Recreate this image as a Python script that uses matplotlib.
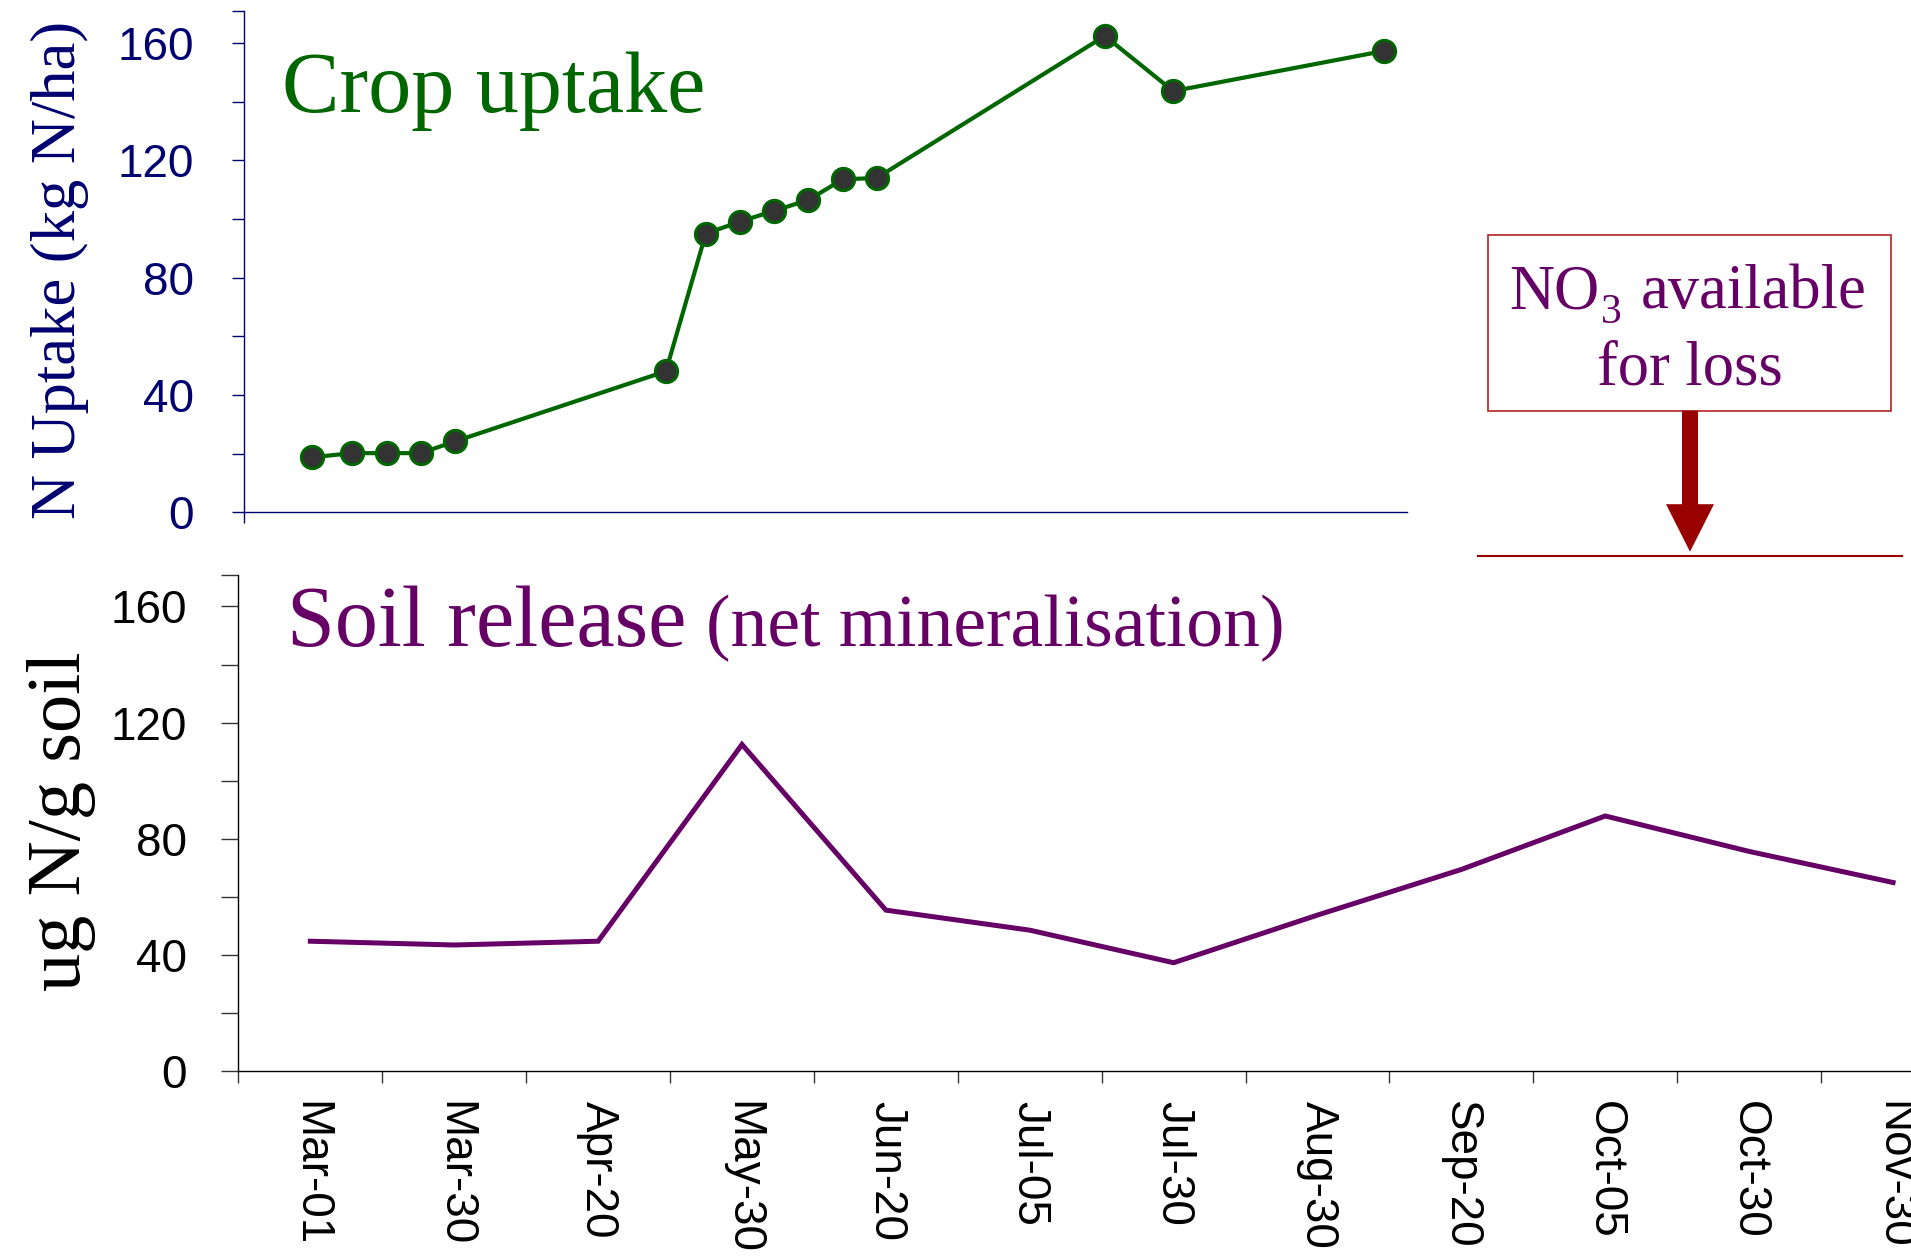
import numpy as np
import matplotlib
matplotlib.use("Agg")
import matplotlib.pyplot as plt
from matplotlib.patches import Rectangle, FancyArrow
from matplotlib.ticker import FixedLocator

# ---------------- data ----------------
uptake_day = [12, 19, 25, 31, 37, 74, 81, 87, 93, 99, 105, 111, 151, 163, 200]
uptake_kgN = [18.8, 20.2, 20.2, 20.2, 24.2, 48.1, 95.0, 99.1, 102.8, 106.5,
              113.5, 114.0, 162.4, 143.6, 157.3]

sample_dates = ["Mar-01", "Mar-30", "Apr-20", "May-30", "Jun-20", "Jul-05",
                "Jul-30", "Aug-30", "Sep-20", "Oct-05", "Oct-30", "Nov-30"]
soil_release = [44.8, 43.5, 44.8, 112.5, 55.5, 48.6, 37.4, 53.8, 69.5, 87.9,
                75.7, 65.0]

y_ticks = [0, 40, 80, 120, 160]
y_max = 171

# ---------------- style ----------------
W, H, DPI = 1911, 1259, 100
GREEN = "#006600"
PURPLE = "#660066"
NAVY = "#000070"
DARKRED = "#990000"
BOXRED = "#B22222"
SERIF = "Liberation Serif"
SANS = "Liberation Sans"

fig = plt.figure(figsize=(W / DPI, H / DPI), dpi=DPI)


def rect(left, top, right, bottom):
    return [left / W, 1 - bottom / H, (right - left) / W, (bottom - top) / H]


def minor_y(ax):
    step = y_ticks[1] - y_ticks[0]
    locs = [t + step / 2 for t in y_ticks[:-1]] + [ax.get_ylim()[1]]
    ax.yaxis.set_minor_locator(FixedLocator(locs))


# ---------------- top: crop uptake ----------------
ax1 = fig.add_axes(rect(244, 10.7, 1407, 512.4))
ax1.plot(uptake_day, uptake_kgN, color=GREEN, lw=3.0, marker="o", ms=16,
         mfc="#333333", mec=GREEN, mew=2.2, clip_on=False, zorder=3)
ax1.set_xlim(0, 204)
ax1.set_ylim(0, y_max)
for s in ("top", "right"):
    ax1.spines[s].set_visible(False)
for s in ("left", "bottom"):
    ax1.spines[s].set_color(NAVY)
    ax1.spines[s].set_linewidth(1.0)
ax1.set_xticks([ax1.get_xlim()[0]])
ax1.set_xticklabels([])
ax1.tick_params(axis="x", length=8, width=1.0, color=NAVY)
ax1.set_yticks(y_ticks)
minor_y(ax1)
ax1.tick_params(axis="y", which="both", length=9, width=1.0, color=NAVY,
                labelcolor=NAVY, labelsize=33, pad=27)
for lab in ax1.get_yticklabels():
    lab.set_fontfamily(SANS)
ax1.patch.set_alpha(0)

# ---------------- bottom: soil release ----------------
ax2 = fig.add_axes(rect(238.4, 574.5, 1965, 1071.4))
x_pos = np.arange(len(sample_dates))
ax2.plot(x_pos, soil_release, color=PURPLE, lw=3.6, solid_joinstyle="miter",
         zorder=3)
ax2.set_xlim(-0.5, len(sample_dates) - 0.5)
ax2.set_ylim(0, y_max)
for s in ("top", "right"):
    ax2.spines[s].set_visible(False)
for s in ("left", "bottom"):
    ax2.spines[s].set_color("black")
    ax2.spines[s].set_linewidth(1.0)
ax2.set_xticks(x_pos)
ax2.set_xticklabels(sample_dates, rotation=270, fontsize=33, fontfamily=SANS)
ax2.tick_params(axis="x", which="major", length=0, pad=21)
ax2.xaxis.set_minor_locator(FixedLocator(np.arange(len(sample_dates) + 1) - 0.5))
ax2.tick_params(axis="x", which="minor", length=8.3, width=1.0, color="#333333")
ax2.set_yticks(y_ticks)
minor_y(ax2)
ax2.tick_params(axis="y", which="both", length=12, width=1.0, color="#333333",
                labelcolor="black", labelsize=33, pad=25)
for lab in ax2.get_yticklabels():
    lab.set_fontfamily(SANS)
ax2.patch.set_alpha(0)

# ---------------- overlay (pixel coordinates) ----------------
ov = fig.add_axes([0, 0, 1, 1], zorder=10)
ov.set_xlim(0, W)
ov.set_ylim(H, 0)
ov.axis("off")
ov.patch.set_alpha(0)

ov.text(60, 270, "N Uptake (kg N/ha)", rotation=90, ha="center", va="center",
        fontsize=45, fontfamily=SERIF, color=NAVY)
ov.text(62, 821, "ug N/g soil", rotation=90, ha="center", va="center",
        fontsize=55, fontfamily=SERIF, color="black")

ov.text(282, 112, "Crop uptake", ha="left", va="baseline", fontsize=62,
        fontfamily=SERIF, color=GREEN)
ov.text(287, 646, "Soil release", ha="left", va="baseline", fontsize=62,
        fontfamily=SERIF, color=PURPLE)
ov.text(706, 646, "(net mineralisation)", ha="left", va="baseline",
        fontsize=53, fontfamily=SERIF, color=PURPLE)

ov.add_patch(Rectangle((1488.3, 235), 402.4, 175.7, facecolor="white",
                       edgecolor=BOXRED, lw=1.2))
ov.text(1509, 308.3, "NO", ha="left", va="baseline",
        fontsize=45, fontfamily=SERIF, color=PURPLE)
ov.text(1601, 323, "3", ha="left", va="baseline",
        fontsize=30, fontfamily=SERIF, color=PURPLE)
ov.text(1641, 308.3, "available", ha="left", va="baseline",
        fontsize=45, fontfamily=SERIF, color=PURPLE)
ov.text(1689.5, 384, "for loss", ha="center", va="baseline",
        fontsize=45, fontfamily=SERIF, color=PURPLE)
ov.add_patch(FancyArrow(1690, 410.7, 0, 141, width=16, head_width=48,
                        head_length=47.5, length_includes_head=True,
                        color=DARKRED, lw=0))
ov.plot([1478.3, 1901.7], [555.7, 555.7], color=DARKRED, lw=1.5)

fig.savefig("out.png", dpi=DPI)
